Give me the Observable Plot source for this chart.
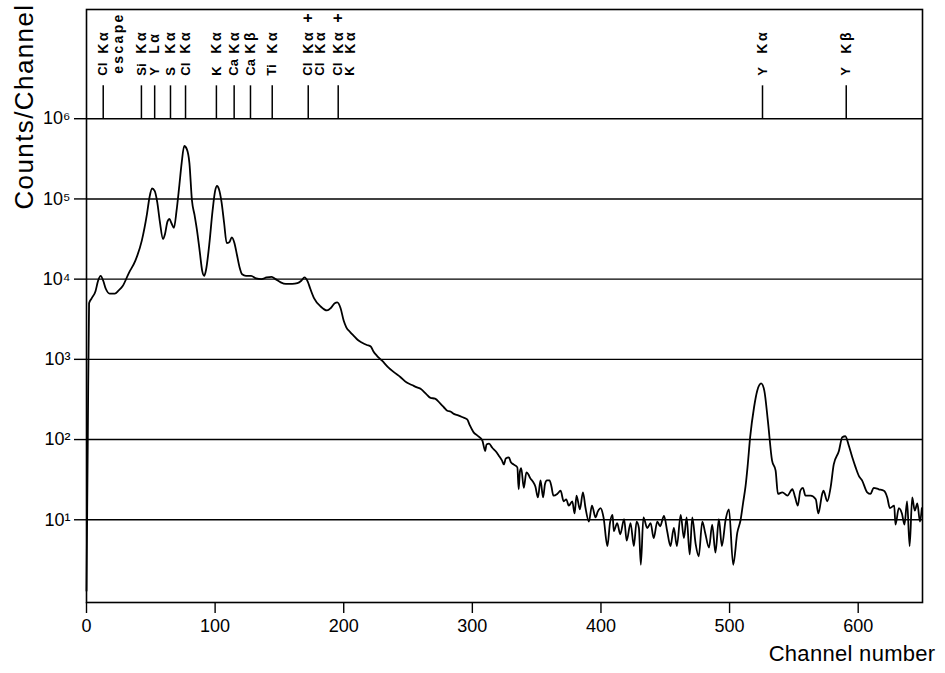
<!DOCTYPE html>
<html><head><meta charset="utf-8">
<script src="https://cdn.jsdelivr.net/npm/d3@7"></script>
<script src="https://cdn.jsdelivr.net/npm/@observablehq/plot@0.6"></script>
<style>
body{margin:0;background:#fff}
svg{font-family:"Liberation Sans",Arial,sans-serif}
</style>
</head><body><div id="chart"></div>
<script>
const channels = [
0,1,2,4,7,9,11,13,15,18,
22,25,28,33,38,43,47,49,51,53,
55,57,59.5,61,63,64.5,66,68,70,72,
74,76,78,80,82,84,86,88,90,91.5,
93,95.5,98,100,101.5,103,105,107,109,111,
113,115,117,119,121,124,128,132,136,140,
144,147,151,155,160,164,167,169.5,172,174,
177,182,187,190,193,195,197.5,200,202,205,
208,211,214,218,221,223,226,230,234,239,
244,249,253,257,260,264,267.5,271,275,278,
280.5,283,285.6,289,292,296,298,301,304,307.7,
310,311,313,315.5,318,320.6,323,324.5,326,328.4,
330,332,335,336,337,338,340,342,343.5,345,
347,349,351,353,355,356.5,358,360,361.5,363,
366,368.6,371,373,375,377.7,379.5,381,383.6,386,
388,390.6,393,395.8,397.5,399.7,402,405,407,409,
410,412.6,415,418,420,423,425.6,427.7,429.5,431,
433,436,438.6,441,443.8,446,449,451.5,454,456.7,
459,462,464.5,466.6,469,471,473.6,476,478.8,481,
484,486.5,489,491.7,494,497,499.5,502.8,506,508.6,
510.6,512.4,514,516,519,521.5,524.6,527,529.8,533,
535.8,537.6,541,545,548.8,551,553,555,557,559,
563,567,569,572,573,576,578.5,581,585,587.6,
590,592.8,595.4,598,600.6,603,607,609.6,612,616,
620,622.6,624.6,628,629,631.6,634,636,638,640,
642,644,646,648,649.5
];
const counts = [
1.3,100,5000,5750,7080,9550,11000,9550,7590,6610,
6610,7240,8130,12000,17000,30200,64600,105000,135000,126000,
91200,52500,31600,36300,52500,56200,50100,43700,70800,138000,
282000,457000,417000,282000,95500,63100,39800,22400,12600,11000,
13200,27500,70800,126000,145000,132000,91200,50100,28200,28800,
33100,28200,20000,14100,11500,11000,11000,10200,10000,10500,
10700,10000,9120,8710,8710,8910,9550,10500,9330,7590,
5750,4570,4070,4370,5010,5130,4370,3020,2510,2190,
1950,1740,1620,1510,1450,1260,1100,955,813,692,
603,513,479,447,427,372,331,324,282,251,
229,224,209,200,191,178,151,123,112,98,
72,87,89,79,72,63,55,49,58,60,
52,49,45,24,40,44,25,39,37,33,
30,26,19,31,19,28,31,31,26,20,
21,23,17,18,15,17,12,20,13.5,22,
14,9.5,15,10.7,12.6,14,10.7,4.7,9.1,11.5,
7.2,9.1,6.6,10.2,5.5,9.1,4.7,9.5,7.9,2.75,
10.7,7.9,9.1,5.9,9.5,8.3,11.2,7.2,4.7,7.9,
4.7,11.5,5.9,10.7,3.7,10.7,5.0,3.5,9.5,6.9,
4.5,8.7,3.9,10.2,4.7,10.2,13.5,2.75,6.9,10,
16.6,26,46,107,251,407,501,407,170,55,
41,21,22,20,24,19,15,23,25,20,
20,18,12,21,23,17,25,49,72,107,
110,83,60,45,35,31,22,21,25,24,
23,19,14,15,8.7,14,12,8.7,17,4.7,
19,13,16,9.5,14
];
const xTicks = [0,100,200,300,400,500,600];
const yTicks = [10,100,1000,10000,100000,1000000];
const yTickLabels = ["10¹","10²","10³","10⁴","10⁵","10⁶"];

const peakChannels = [13,42.7,53,65.3,77,101,114.8,127.5,144.4,172.4,195.7,525.6,590.7];
const peakElements = ["Cl","Si","Y","S","Cl","K","Ca","Ca","Ti","Cl","Cl","Y","Y"];
const peakLines    = ["Kα","Kα","Lα","Kα","Kα","Kα","Kα","Kβ","Kα","Kα","Kα","Kα","Kβ"];
const peakPlus     = ["","","","","","","","","","+","+","",""];
const secondChannels = [172.4,195.7];
const secondElements = ["Cl","K"];
const secondLines    = ["Kα","Kα"];
const escapeChannel = [13];
const escapeLabel = ["escape"];

const spectrum = channels.map((c,i)=>({channel:c, count:counts[i]}));
const peaks = peakChannels.map((c,i)=>({channel:c, element:peakElements[i], line:peakLines[i], plus:peakPlus[i]}));
const seconds = secondChannels.map((c,i)=>({channel:c, element:secondElements[i], line:secondLines[i]}));
const escapes = escapeChannel.map((c,i)=>({channel:c, label:escapeLabel[i]}));

const annFont = {fontSize:14, fontWeight:"bold", rotate:-90, textAnchor:"start", fill:"black"};

const chart = Plot.plot({
  width: 945, height: 673,
  marginLeft: 86, marginRight: 23, marginTop: 9, marginBottom: 71,
  x: {domain:[0,650]},
  y: {type:"log", domain:[0.93, 2.3e7]},
  style: {fontFamily:"'Liberation Sans', Arial, sans-serif", background:"white", color:"black"},
  marks: [
    Plot.ruleY(yTicks, {stroke:"black", strokeWidth:1.4}),
    Plot.frame({stroke:"black", strokeWidth:1.6}),
    Plot.axisX({ticks:xTicks, tickSize:11, tickPadding:6, fontSize:18, label:null, strokeWidth:1.4, tickFormat:d=>String(d)}),
    Plot.axisY({ticks:yTicks, tickSize:12, tickPadding:4, fontSize:18, label:null, strokeWidth:1.4, tickFormat:d=>yTickLabels[yTicks.indexOf(d)]}),
    Plot.line(spectrum, {x:"channel", y:"count", stroke:"black", strokeWidth:1.8, curve:"monotone-x"}),
    Plot.ruleX(peaks, {x:"channel", y1:1e6, y2:2.57e6, stroke:"black", strokeWidth:1.5}),
    Plot.text(peaks, {x:"channel", y:3.44e6, text:"element", ...annFont, fontSize:13}),
    Plot.text(peaks, {x:"channel", y:6.46e6, text:"line", ...annFont, ariaDescription:"ann-line"}),
    Plot.text(peaks, {x:"channel", y:1.57e7, text:"plus", ...annFont, fontSize:16}),
    Plot.text(seconds, {x:"channel", y:3.44e6, text:"element", dx:12, ...annFont, fontSize:13}),
    Plot.text(seconds, {x:"channel", y:6.46e6, text:"line", dx:12, ...annFont, ariaDescription:"ann-line"}),
    Plot.text(escapes, {x:"channel", y:3.64e6, text:"label", dx:15, ...annFont, ariaDescription:"ann-escape"}),
    Plot.text(["Counts/Channel"], {frameAnchor:"top-left", dx:-72, dy:-6, rotate:-90, textAnchor:"end", fontSize:26, fill:"black", ariaDescription:"ylabel"}),
    Plot.text(["Channel number"], {frameAnchor:"bottom-right", dx:13, dy:58, textAnchor:"end", fontSize:22, fill:"black", ariaDescription:"xlabel"})
  ]
});
const sel = d3.select(chart);
sel.selectAll('g[aria-description="ann-line"] text').style("letter-spacing","2.5px");
sel.selectAll('g[aria-description="ann-escape"] text').style("letter-spacing","2.3px");
sel.selectAll('g[aria-description="ylabel"] text').style("letter-spacing","1.4px");
sel.selectAll('g[aria-description="xlabel"] text').style("letter-spacing","0.3px");
document.getElementById("chart").appendChild(chart);
</script>
</body></html>
